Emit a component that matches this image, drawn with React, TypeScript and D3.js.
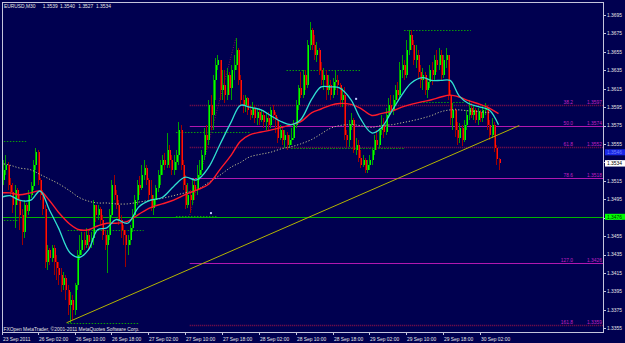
import React from "react";
import * as d3 from "d3";

// ---------- DATA ----------
const symbolTitle = "EURUSD,M30";
const lastOHLC = ["1.3539", "1.3540", "1.3527", "1.3534"];
const copyright = "FXOpen MetaTrader, \u00a92001-2011 MetaQuotes Software Corp.";

const FIRST_OPEN = 1.3505;

const closes = [
  1.3516, 1.3527, 1.3532, 1.3511, 1.3503, 1.3489, 1.3505, 1.3494, 1.3478, 1.346,
  1.3489, 1.3482, 1.35, 1.3509, 1.3532, 1.3546, 1.3516, 1.35, 1.3484, 1.3427,
  1.344, 1.3431, 1.3442, 1.3427, 1.342, 1.3413, 1.3402, 1.341, 1.3397, 1.338,
  1.3386, 1.3375, 1.3402, 1.3435, 1.344, 1.3451, 1.3445, 1.3456, 1.3449, 1.3453,
  1.3489, 1.3478, 1.3484, 1.3473, 1.3456, 1.3445, 1.3456, 1.3478, 1.3511, 1.35,
  1.3489, 1.3473, 1.3462, 1.3456, 1.3445, 1.3451, 1.3464, 1.3478, 1.3494, 1.3511,
  1.3507, 1.3521, 1.3529, 1.3516, 1.35, 1.3486, 1.3494, 1.3507, 1.3521, 1.3532,
  1.3538, 1.3532, 1.3549, 1.3538, 1.3527, 1.3535, 1.3543, 1.357, 1.3532, 1.3511,
  1.3489, 1.35, 1.3494, 1.3511, 1.3505, 1.3521, 1.3527, 1.3543, 1.3565, 1.3559,
  1.3597, 1.3586, 1.3624, 1.3641, 1.3646, 1.3614, 1.3619, 1.3608, 1.363, 1.3616,
  1.3635, 1.3641, 1.3657, 1.3624, 1.3603, 1.3597, 1.3605, 1.3592, 1.3586, 1.3594,
  1.3583, 1.359, 1.3581, 1.3586, 1.3579, 1.3583, 1.3576, 1.3592, 1.3586, 1.3581,
  1.3562, 1.357, 1.3559, 1.3565, 1.3554, 1.3559, 1.3562, 1.3576, 1.3597, 1.3616,
  1.3608, 1.363, 1.3619, 1.3662, 1.3679, 1.3662, 1.3652, 1.3657, 1.3635, 1.3624,
  1.363, 1.3614, 1.3619, 1.3608, 1.3622, 1.3624, 1.3619, 1.3603, 1.3608, 1.3565,
  1.3559, 1.3576, 1.3581, 1.3549, 1.3554, 1.354, 1.3532, 1.3538, 1.3527, 1.3532,
  1.3538, 1.3549, 1.3559, 1.3554, 1.357, 1.3576, 1.3568, 1.3586, 1.3597, 1.3592,
  1.3603, 1.3614, 1.3608, 1.3635, 1.3641, 1.363, 1.3657, 1.3673, 1.3662, 1.3646,
  1.3652, 1.3633, 1.3624, 1.363, 1.3614, 1.3622, 1.3635, 1.363, 1.3646, 1.3641,
  1.3652, 1.363, 1.3646, 1.3652, 1.3608, 1.3583, 1.3592, 1.357, 1.3562, 1.3572,
  1.3559, 1.3576, 1.3586, 1.3594, 1.3586, 1.3592, 1.3581, 1.359, 1.3583, 1.3592,
  1.3594, 1.3576, 1.3565, 1.3576, 1.3551, 1.3539, 1.3534,
];

const highs = [
  1.3532, 1.3538, 1.3543, 1.3535, 1.3518, 1.3513, 1.3511, 1.3507, 1.35, 1.3484,
  1.3494, 1.3491, 1.3505, 1.3514, 1.3538, 1.3551, 1.3549, 1.3518, 1.3505, 1.3489,
  1.3445, 1.3442, 1.3445, 1.3445, 1.3435, 1.3427, 1.342, 1.3416, 1.3413, 1.3402,
  1.3394, 1.3391, 1.3404, 1.344, 1.3456, 1.346, 1.3459, 1.3464, 1.3462, 1.346,
  1.3494, 1.3489, 1.3489, 1.3487, 1.3478, 1.3462, 1.3462, 1.3484, 1.3516, 1.3521,
  1.3505, 1.3494, 1.3478, 1.3467, 1.3462, 1.3456, 1.3467, 1.3484, 1.35, 1.3516,
  1.352, 1.3532, 1.3538, 1.3532, 1.3518, 1.3516, 1.35, 1.3511, 1.3527, 1.3538,
  1.3543, 1.3545, 1.3567, 1.3554, 1.3543, 1.3543, 1.3549, 1.3579, 1.3576, 1.3538,
  1.3521, 1.3513, 1.3505, 1.3516, 1.3518, 1.3532, 1.3538, 1.3549, 1.3572, 1.3576,
  1.3603, 1.3608, 1.363, 1.3648, 1.3652, 1.3646, 1.3635, 1.3635, 1.3637, 1.3633,
  1.3641, 1.3652, 1.367, 1.3659, 1.363, 1.3608, 1.3608, 1.3606, 1.3597, 1.3601,
  1.3597, 1.3594, 1.3594, 1.3592, 1.3592, 1.3589, 1.359, 1.3595, 1.3597, 1.359,
  1.3584, 1.3576, 1.3573, 1.357, 1.3568, 1.3565, 1.3572, 1.3581, 1.3603, 1.3619,
  1.3633, 1.3635, 1.3635, 1.3668, 1.3687, 1.3681, 1.3673, 1.3666, 1.3659, 1.3644,
  1.3637, 1.3635, 1.363, 1.3624, 1.3627, 1.3635, 1.363, 1.3621, 1.3616, 1.3617,
  1.357, 1.3581, 1.3589, 1.3583, 1.3562, 1.3559, 1.3549, 1.3543, 1.354, 1.3538,
  1.3543, 1.3551, 1.3565, 1.357, 1.3572, 1.3586, 1.3583, 1.3594, 1.3605, 1.3608,
  1.3608, 1.3619, 1.3622, 1.3644, 1.3652, 1.3646, 1.3668, 1.3679, 1.3679, 1.3668,
  1.3662, 1.3657, 1.3641, 1.3637, 1.3633, 1.3627, 1.3641, 1.3644, 1.3652, 1.3657,
  1.3659, 1.3657, 1.3652, 1.3659, 1.3652, 1.3614, 1.3599, 1.3594, 1.3579, 1.3578,
  1.3576, 1.3581, 1.3592, 1.3603, 1.3599, 1.3597, 1.3594, 1.3594, 1.3592, 1.3597,
  1.3599, 1.3597, 1.3581, 1.3583, 1.3579, 1.3554, 1.354,
];

const lows = [
  1.3494, 1.3511, 1.3521, 1.3505, 1.3499, 1.348, 1.3464, 1.3489, 1.3462, 1.3445,
  1.3453, 1.3475, 1.3478, 1.3496, 1.3505, 1.3527, 1.3511, 1.3494, 1.3478, 1.342,
  1.3418, 1.3424, 1.3427, 1.3413, 1.3407, 1.3402, 1.3394, 1.3397, 1.3386, 1.3369,
  1.3361, 1.3364, 1.3369, 1.3397, 1.3429, 1.3435, 1.344, 1.3442, 1.344, 1.3442,
  1.3445, 1.347, 1.3473, 1.3467, 1.3451, 1.344, 1.3415, 1.3451, 1.3475, 1.3494,
  1.3484, 1.3467, 1.3453, 1.3445, 1.3422, 1.3435, 1.3445, 1.346, 1.3475, 1.3489,
  1.35, 1.3505, 1.3516, 1.3511, 1.3494, 1.3482, 1.3478, 1.3489, 1.3503, 1.3511,
  1.3521, 1.3527, 1.3529, 1.3529, 1.3521, 1.3521, 1.3527, 1.3532, 1.3527, 1.3505,
  1.3484, 1.3486, 1.348, 1.3489, 1.3494, 1.35, 1.3516, 1.3521, 1.3538, 1.3549,
  1.3554, 1.357, 1.357, 1.3603, 1.3635, 1.3603, 1.3603, 1.3599, 1.3603, 1.3608,
  1.3603, 1.3624, 1.3635, 1.3619, 1.3597, 1.3589, 1.359, 1.3586, 1.3581, 1.3583,
  1.3578, 1.3576, 1.3576, 1.3579, 1.3572, 1.357, 1.357, 1.3572, 1.3581, 1.3567,
  1.3556, 1.3559, 1.3554, 1.3551, 1.3549, 1.3551, 1.3554, 1.3559, 1.3572, 1.3592,
  1.3605, 1.3605, 1.3614, 1.3616, 1.3657, 1.3657, 1.3646, 1.3644, 1.363, 1.3619,
  1.3614, 1.3603, 1.3608, 1.3603, 1.3605, 1.3614, 1.3608, 1.3595, 1.3595, 1.3559,
  1.3552, 1.3552, 1.357, 1.3545, 1.3543, 1.3535, 1.3529, 1.353, 1.3524, 1.3524,
  1.3527, 1.3532, 1.3543, 1.3549, 1.3551, 1.3565, 1.3562, 1.3565, 1.3583, 1.3586,
  1.3586, 1.3597, 1.3603, 1.3605, 1.3627, 1.3624, 1.3627, 1.3652, 1.3657, 1.3641,
  1.3637, 1.3627, 1.3616, 1.3614, 1.3608, 1.3605, 1.3616, 1.3619, 1.3624, 1.3633,
  1.3635, 1.3624, 1.3627, 1.3637, 1.3603, 1.3576, 1.357, 1.3563, 1.3554, 1.3556,
  1.3553, 1.3557, 1.357, 1.3581, 1.3583, 1.3581, 1.3578, 1.3576, 1.3579, 1.3579,
  1.3586, 1.357, 1.3559, 1.3562, 1.3546, 1.3532, 1.3527,
];

// moving averages sampled at bars
const maBars = [
  0, 4, 8, 13, 17, 21, 25, 30, 34, 38, 42, 46, 50, 55, 60, 65, 70, 75, 80, 85,
  90, 95, 100, 104, 108, 113, 117, 122, 126, 130, 135, 139, 143, 147, 152, 156,
  161, 165, 170, 174, 178, 183, 187, 191, 195, 199, 203, 208, 212, 216,
];
const fastMA = [
  1.3497, 1.3499, 1.3494, 1.3494, 1.3504, 1.3484, 1.3464, 1.3437, 1.3432, 1.344,
  1.3462, 1.3464, 1.3473, 1.3469, 1.3487, 1.3494, 1.3497, 1.3509, 1.3519, 1.3516,
  1.3529, 1.3554, 1.3579, 1.3597, 1.3595, 1.3592, 1.3586, 1.3579, 1.3576, 1.3581,
  1.3604, 1.3617, 1.3617, 1.3616, 1.3603, 1.3583, 1.3567, 1.3572, 1.3592, 1.3608,
  1.3621, 1.3627, 1.3624, 1.3624, 1.3624, 1.3607, 1.3599, 1.3595, 1.3592, 1.3576,
];
const midMA = [
  1.3502, 1.3502, 1.35, 1.3502, 1.3504, 1.3494, 1.3481, 1.3468, 1.3462, 1.3462,
  1.3466, 1.3469, 1.3469, 1.3471, 1.3479, 1.3486, 1.349, 1.3494, 1.35, 1.3505,
  1.3511, 1.3527, 1.3543, 1.3558, 1.3565, 1.3568, 1.357, 1.3573, 1.3576, 1.3579,
  1.3589, 1.3593, 1.3597, 1.3599, 1.3598, 1.3594, 1.3586, 1.3588, 1.3591, 1.3595,
  1.3598, 1.3601, 1.3603, 1.3606, 1.3608, 1.3606, 1.3602, 1.3598, 1.3594, 1.3588,
];
const slowMA = [
  1.3534, 1.3532, 1.3529, 1.3527, 1.3522, 1.3517, 1.3512, 1.3504, 1.3497, 1.3493,
  1.3491, 1.3491, 1.349, 1.349, 1.3492, 1.3494, 1.3496, 1.3499, 1.3502, 1.3505,
  1.3513, 1.3521, 1.353, 1.3535, 1.3541, 1.3544, 1.3546, 1.355, 1.3552, 1.3555,
  1.356, 1.3566, 1.3572, 1.3575, 1.3576, 1.3575, 1.3573, 1.3575, 1.3576, 1.3578,
  1.358, 1.3583, 1.3586, 1.359, 1.3592, 1.3592, 1.3591, 1.359, 1.3589,
];

const timeLabels = [
  "23 Sep 2011", "26 Sep 02:00", "26 Sep 10:00", "26 Sep 18:00", "27 Sep 02:00",
  "27 Sep 10:00", "27 Sep 18:00", "28 Sep 02:00", "28 Sep 10:00", "28 Sep 18:00",
  "29 Sep 02:00", "29 Sep 10:00", "29 Sep 18:00", "30 Sep 02:00",
];
const timeLabelBars = [0, 16, 32, 48, 64, 80, 96, 112, 128, 144, 160, 176, 192, 208];

const priceTicks = [
  1.3695, 1.3675, 1.3655, 1.3635, 1.3615, 1.3595, 1.3575, 1.3555, 1.3535,
  1.3515, 1.3495, 1.3475, 1.3455, 1.3435, 1.3415, 1.3395, 1.3375, 1.3355,
];

// Fibonacci retracement object
const fibAnchorBars = [82, 102];
const fibAnchorPrices = [1.3478, 1.367];
const fibLevels = ["38.2", "50.0", "61.8", "78.6", "127.0", "161.8"];
const fibPrices = [1.3597, 1.3574, 1.3552, 1.3518, 1.3426, 1.3359];
const fibDotted = [true, false, true, false, false, true];

// horizontal line and trend line objects
const hLinePrice = 1.3476;
const trendBars = [28.5, 225];
const trendPrices = [1.3361, 1.3575];

// dotted high/low level segments
const levelStartBars = [175, 124, 76, 126, 0, 0, 29, 76, 29, 182];
const levelEndBars = [204, 156, 108, 175, 11, 8, 62, 94, 60, 201];
const levelPrices = [1.3679, 1.3635, 1.3568, 1.3551, 1.3558, 1.3473, 1.3462, 1.3477, 1.3361, 1.3601];

// marker dots
const dotBars = [91.2, 154.2];
const dotPrices = [1.348, 1.3604];

// price-scale boxes
const blueBoxPrice = 1.3546;
const bidPrice = 1.3534;

// ---------- COMPONENT ----------
const W = 625;
const H = 343;
const L = 2, T = 2, R = 603, B = 332;
const FONT = "'Liberation Sans', Arial, sans-serif";

export default function App() {
  const x = d3.scaleLinear().domain([0, 216]).range([0.84, 498.5]);
  const y = d3.scaleLinear().domain([1.3355, 1.3695]).range([328.3, 15]);

  const bars = closes.map((c, i) => {
    const o = i === 0 ? FIRST_OPEN : closes[i - 1];
    const h = Math.max(highs[i], o, c);
    const l = Math.min(lows[i], o, c);
    return { i, o, c, h, l, bull: c >= o };
  });

  const maLine = (vals: number[]) =>
    d3
      .line<number>()
      .x((_, k) => x(maBars[k]))
      .y((d) => y(d))
      .curve(d3.curveCatmullRom.alpha(0.5))(vals) || "";

  const bg = "#000050";
  const txt = "#e6e6e6";
  const fs = 4.9;

  return (
    <svg
      width={W}
      height={H}
      viewBox={`0 0 ${W} ${H}`}
      style={{ position: "fixed", left: 0, top: 0, display: "block" }}
      fontFamily={FONT}
    >
      <defs>
        <clipPath id="plot">
          <rect x={L} y={T} width={R - L} height={B - T} />
        </clipPath>
      </defs>
      <rect x={0} y={0} width={W} height={H} fill={bg} />

      <g clipPath="url(#plot)">
        {/* fibonacci levels */}
        {fibPrices.map((p, k) => (
          <line
            key={"fib" + k}
            x1={x(fibAnchorBars[0])}
            x2={R}
            y1={Math.round(y(p)) + 0.5}
            y2={Math.round(y(p)) + 0.5}
            stroke={fibDotted[k] ? "#8a1048" : "#b018b0"}
            strokeWidth={fibDotted[k] ? 1.6 : 1}
            strokeDasharray={fibDotted[k] ? "1 1" : undefined}
          />
        ))}
        <line
          x1={x(fibAnchorBars[0])}
          y1={y(fibAnchorPrices[0])}
          x2={x(fibAnchorBars[1])}
          y2={y(fibAnchorPrices[1])}
          stroke="#8a1048"
          strokeWidth={1}
          strokeDasharray="1 1.5"
        />
        {/* horizontal line */}
        <line
          x1={L}
          x2={R}
          y1={Math.round(y(hLinePrice)) + 0.5}
          y2={Math.round(y(hLinePrice)) + 0.5}
          stroke="#00b400"
          strokeWidth={1}
        />
        {/* level segments */}
        {levelPrices.map((p, k) => (
          <line
            key={"lv" + k}
            x1={x(levelStartBars[k])}
            x2={x(levelEndBars[k])}
            y1={Math.round(y(p)) + 0.5}
            y2={Math.round(y(p)) + 0.5}
            stroke="#0a9a0a"
            strokeWidth={1.2}
            strokeDasharray="1.5 1.5"
          />
        ))}

        {/* candles */}
        {bars.map((b) => {
          const cx = Math.round(x(b.i));
          const yo = y(b.o);
          const yc = y(b.c);
          const top = Math.min(yo, yc);
          const hgt = Math.max(1, Math.abs(yo - yc));
          const dark = b.bull ? "#00a000" : "#a00000";
          const bright = b.bull ? "#00ff00" : "#ff1010";
          return (
            <g key={"c" + b.i} shapeRendering="crispEdges">
              <rect x={cx} y={y(b.h)} width={1} height={Math.max(1, y(b.l) - y(b.h))} fill={dark} />
              <rect x={cx} y={top} width={1} height={hgt} fill={dark} />
              <rect x={cx + 1} y={top} width={1} height={hgt} fill={bright} />
            </g>
          );
        })}

        {/* moving averages */}
        <path d={maLine(slowMA)} fill="none" stroke="#c0c090" strokeWidth={1} strokeDasharray="1.2 1.8" />
        <path d={maLine(midMA)} fill="none" stroke="#ff1a2a" strokeWidth={1.4} />
        <path d={maLine(fastMA)} fill="none" stroke="#30e0d0" strokeWidth={1.3} />

        {/* trend line */}
        <line
          x1={x(trendBars[0])}
          y1={y(trendPrices[0])}
          x2={x(trendBars[1])}
          y2={y(trendPrices[1])}
          stroke="#b4b400"
          strokeWidth={1}
        />

        {/* dots */}
        {dotBars.map((bb, k) => (
          <rect key={"d" + k} x={x(bb) - 1} y={y(dotPrices[k]) - 1} width={2} height={2} fill="#c0c8ff" />
        ))}

        {/* fib labels */}
        {fibPrices.map((p, k) => (
          <g key={"fl" + k} fontSize={fs} fill="#c020c0">
            <text x={573} y={Math.round(y(p)) - 1} textAnchor="end">
              {fibLevels[k]}
            </text>
            <text x={602} y={Math.round(y(p)) - 1} textAnchor="end">
              {p.toFixed(4)}
            </text>
          </g>
        ))}
      </g>

      {/* frame */}
      <rect x={L + 0.5} y={T + 0.5} width={R - L} height={B - T} fill="none" stroke="#c4c4dc" strokeWidth={1} />

      {/* price axis */}
      {priceTicks.map((p) => (
        <g key={"pt" + p}>
          <line x1={R} x2={R + 3} y1={Math.round(y(p)) + 0.5} y2={Math.round(y(p)) + 0.5} stroke="#c4c4dc" />
          <text x={607} y={y(p) + 1.8} fontSize={fs} fill={txt}>
            {p.toFixed(4)}
          </text>
        </g>
      ))}
      {/* price boxes */}
      <rect x={605} y={y(blueBoxPrice) - 3} width={20} height={6} fill="#1a28e6" />
      <text x={607} y={y(blueBoxPrice) + 1.8} fontSize={fs} fill="#7080ff">
        {blueBoxPrice.toFixed(4)}
      </text>
      <rect x={605} y={y(bidPrice) - 3.2} width={20} height={6.4} fill="#ffffff" />
      <text x={607} y={y(bidPrice) + 1.8} fontSize={fs} fill="#000000">
        {bidPrice.toFixed(4)}
      </text>
      <rect x={605} y={y(hLinePrice) - 3} width={20} height={6} fill="#00ff00" />
      <text x={607} y={y(hLinePrice) + 1.8} fontSize={fs} fill="#003000">
        {hLinePrice.toFixed(4)}
      </text>

      {/* time axis */}
      {timeLabelBars.map((bb, k) => {
        const tx = Math.max(L, Math.round(x(bb)));
        return (
          <g key={"tl" + k}>
            <line x1={tx + 0.5} x2={tx + 0.5} y1={B} y2={B + 3} stroke="#c4c4dc" />
            <text x={tx + 1} y={340.5} fontSize={fs} fill={txt}>
              {timeLabels[k]}
            </text>
          </g>
        );
      })}

      {/* title and copyright */}
      <text y={8} fontSize={fs} fill={txt}>
        <tspan x={4}>{symbolTitle}</tspan>
        <tspan x={42.7}>{lastOHLC[0]}</tspan>
        <tspan x={60}>{lastOHLC[1]}</tspan>
        <tspan x={78.3}>{lastOHLC[2]}</tspan>
        <tspan x={96}>{lastOHLC[3]}</tspan>
      </text>
      <text x={3.5} y={330.5} fontSize={fs} fill={txt}>
        {copyright}
      </text>
    </svg>
  );
}
